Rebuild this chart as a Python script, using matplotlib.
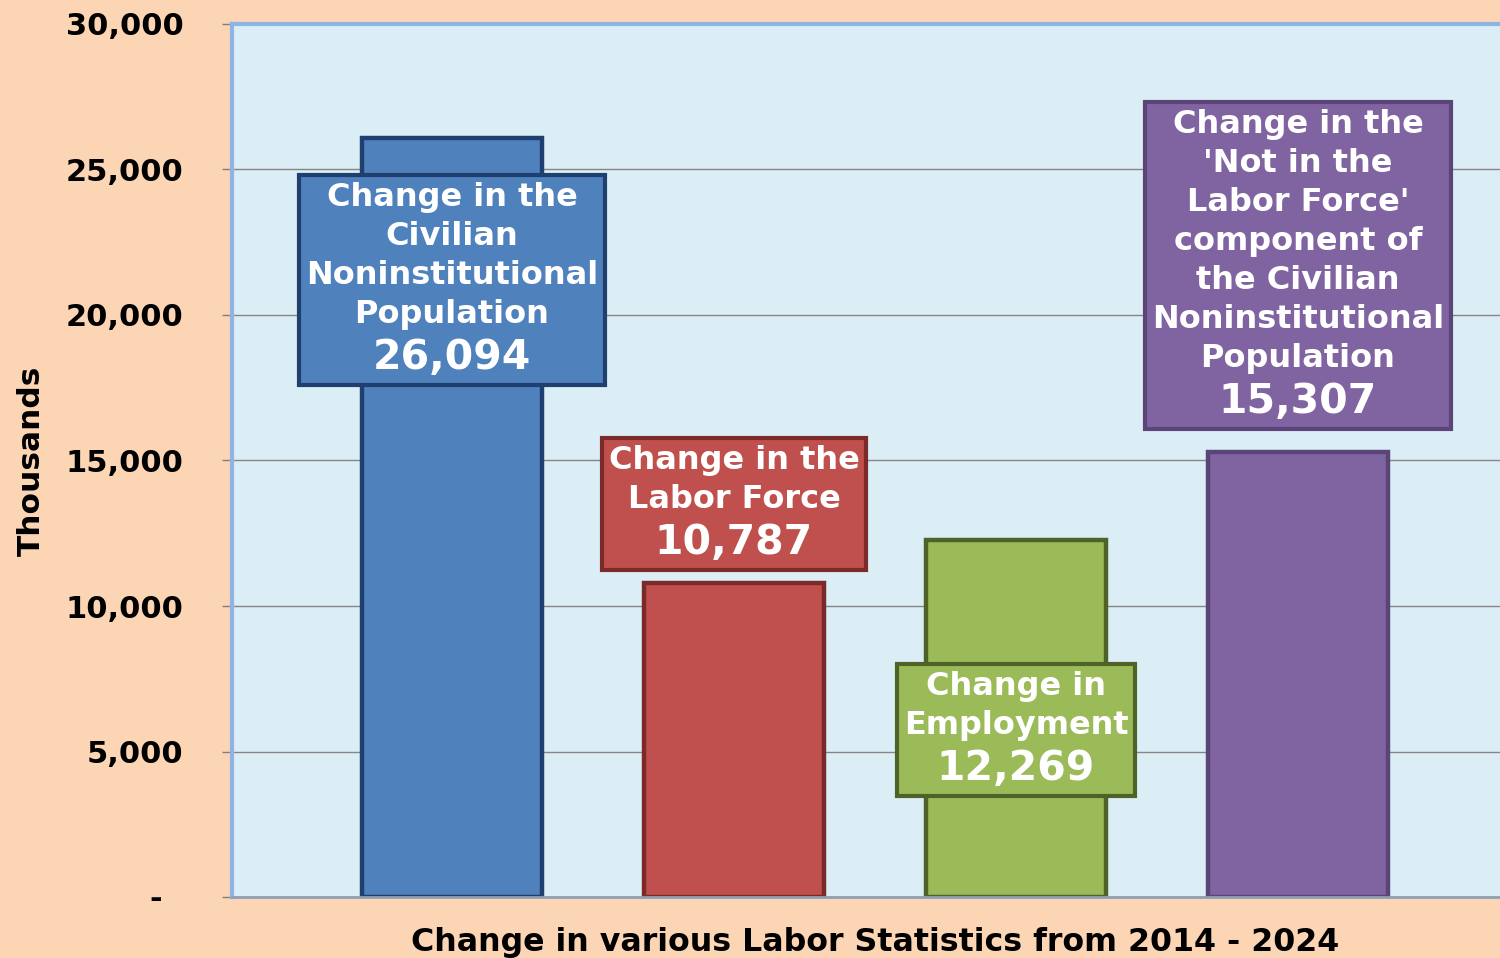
import matplotlib
matplotlib.use("Agg")
import matplotlib.pyplot as plt
from matplotlib.offsetbox import TextArea, VPacker, AnnotationBbox
from matplotlib.ticker import FuncFormatter

categories = ["Civilian Noninstitutional Population", "Labor Force",
              "Employment", "Not in the Labor Force"]
values = [26094, 10787, 12269, 15307]
box_texts = ["Change in the\nCivilian\nNoninstitutional\nPopulation",
             "Change in the\nLabor Force",
             "Change in\nEmployment",
             "Change in the\n'Not in the\nLabor Force'\ncomponent of\nthe Civilian\nNoninstitutional\nPopulation"]
box_values = ["26,094", "10,787", "12,269", "15,307"]
box_y = [21200, 13500, 5740, 21700]

face_colors = ["#4F81BD", "#C0504D", "#9BBB59", "#8064A2"]
edge_colors = ["#1F3F6E", "#7A2A28", "#4F6228", "#5A4478"]

fig = plt.figure(figsize=(15, 9.58), dpi=100)
fig.patch.set_facecolor("#FCD5B5")
ax = fig.add_axes([232 / 1500, 61 / 958, 1286 / 1500, 873 / 958])
ax.set_facecolor("#DCEEF5")

x = list(range(len(values)))
ax.bar(x, values, width=0.635, color=face_colors, edgecolor=edge_colors,
       linewidth=3.2, zorder=2)

ax.set_xlim(-0.78, 3.78)
ax.set_ylim(0, 30000)
ax.set_yticks([0, 5000, 10000, 15000, 20000, 25000, 30000])
ax.yaxis.set_major_formatter(FuncFormatter(lambda v, p: "-  " if v == 0 else f"{int(v):,}"))
ax.set_xticks([])
ax.grid(axis="y", color="#868686", linewidth=1, zorder=0)
ax.set_axisbelow(True)

ax.tick_params(axis="y", length=7, width=1, color="#7F7F7F", pad=28,
               labelsize=22)
for lbl in ax.get_yticklabels():
    lbl.set_fontweight("bold")

ax.spines["left"].set_color("#8EB4E3")
ax.spines["left"].set_linewidth(3)
ax.spines["top"].set_color("#8EB4E3")
ax.spines["top"].set_linewidth(3)
ax.spines["bottom"].set_color("#8DA0B8")
ax.spines["bottom"].set_linewidth(2)
ax.spines["right"].set_visible(False)

ax.set_ylabel("Thousands", fontsize=22.5, fontweight="bold", labelpad=14)
ax.set_xlabel("Change in various Labor Statistics from 2014 - 2024",
              fontsize=22.8, fontweight="bold")
ax.xaxis.set_label_coords((875 - 232) / 1286, -0.034)

for i in range(len(values)):
    desc = TextArea(box_texts[i], textprops=dict(color="white", fontsize=23,
                                                 fontweight="bold", ha="center",
                                                 multialignment="center",
                                                 linespacing=1.33))
    num = TextArea(box_values[i], textprops=dict(color="white", fontsize=29.5,
                                                 fontweight="bold", ha="center"))
    pack = VPacker(children=[desc, num], align="center", pad=0, sep=6)
    ab = AnnotationBbox(pack, (x[i], box_y[i]), frameon=True, pad=0.5,
                        fontsize=10, zorder=3,
                        bboxprops=dict(facecolor=face_colors[i],
                                       edgecolor=edge_colors[i], linewidth=3,
                                       boxstyle="square,pad=0.5"))
    ax.add_artist(ab)

fig.savefig("out.png", dpi=100, facecolor=fig.get_facecolor())
